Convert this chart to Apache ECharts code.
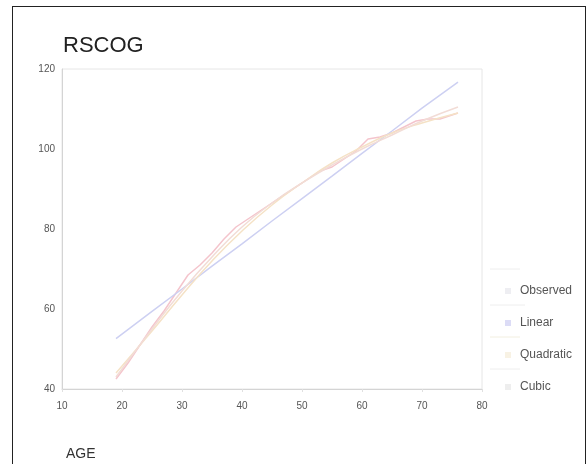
<!DOCTYPE html>
<html>
<head>
<meta charset="utf-8">
<script src="https://cdn.jsdelivr.net/npm/echarts@6/dist/echarts.min.js"></script>
<style>
  html, body { margin: 0; padding: 0; background: #fff; }
  #frame { position: absolute; left: 12px; top: 6px; width: 574px; height: 460px; border: 1px solid #222; box-sizing: border-box; }
  #chart { position: absolute; left: 0; top: 0; width: 587px; height: 464px; }
</style>
</head>
<body>
<div id="frame"></div>
<div id="chart"></div>
<script>
// 数据
const xTicks = [10, 20, 30, 40, 50, 60, 70, 80];
const yTicks = [40, 60, 80, 100, 120];

const observedAge = [19, 21, 23, 25, 27, 29, 31, 33, 35, 37, 39, 41, 43, 45, 47, 49, 51, 53, 55, 57, 59, 61, 63, 65, 67, 69, 71, 73, 75, 76];
const observedVal = [42.5, 46.5, 51, 55.5, 59.5, 64, 68.5, 71, 74, 77.5, 80.5, 82.5, 84.5, 86.5, 88.5, 90.5, 92.5, 94.5, 95.5, 97.5, 99.5, 102.5, 103, 104, 105.5, 107, 107.5, 107.5, 108.5, 109];

const fitAge = [19, 25, 30, 35, 40, 45, 50, 55, 60, 65, 70, 76];
const linearVal = [52.6, 59.4, 65.0, 70.7, 76.3, 82.0, 87.6, 93.2, 98.9, 104.5, 110.2, 116.7];
const quadraticVal = [44, 54.5, 63.5, 72, 79.5, 86, 91.5, 96.5, 100.5, 104, 106.5, 109];
const cubicVal = [43, 55, 64.5, 73, 80.5, 86.5, 91.5, 96, 100, 103.5, 107, 110.5];

const zip = (xs, ys) => xs.map((x, i) => [x, ys[i]]);

const myChart = echarts.init(document.getElementById('chart'));
const fontFamily = 'Liberation Sans, Arial, sans-serif';
const labelFont = { color: '#555', fontSize: 10, fontFamily: fontFamily };

myChart.setOption({
  animation: false,
  title: [
    { text: 'RSCOG', left: 58, top: 30, textStyle: { color: '#222', fontSize: 22, fontWeight: 'normal', fontFamily: fontFamily } },
    { text: 'AGE', left: 61, top: 442, textStyle: { color: '#333', fontSize: 14, fontWeight: 'normal', fontFamily: fontFamily } }
  ],
  grid: {
    left: 62,
    right: 105,
    top: 69,
    bottom: 75,
    show: true,
    borderColor: '#e6e6e6',
    borderWidth: 1
  },
  xAxis: {
    type: 'value',
    min: 10,
    max: 80,
    interval: 10,
    splitLine: { show: false },
    axisLine: { lineStyle: { color: '#d4d4d4' } },
    axisTick: { show: true, length: 3, lineStyle: { color: '#e0e0e0' } },
    axisLabel: Object.assign({ margin: 12, showMinLabel: true, showMaxLabel: true }, labelFont)
  },
  yAxis: {
    type: 'value',
    min: 40,
    max: 120,
    interval: 20,
    splitLine: { show: false },
    axisLine: { show: true, lineStyle: { color: '#d4d4d4' } },
    axisTick: { show: false },
    axisLabel: Object.assign({ margin: 7 }, labelFont)
  },
  legend: {
    orient: 'vertical',
    left: 500,
    top: 280,
    itemGap: 20,
    itemWidth: 6,
    itemHeight: 6,
    icon: 'rect',
    textStyle: { color: '#555', fontSize: 12, fontFamily: fontFamily, padding: [0, 0, 0, 4] },
    data: ['Observed', 'Linear', 'Quadratic', 'Cubic']
  },
  graphic: [
    { type: 'line', shape: { x1: 490, y1: 269, x2: 520, y2: 269 }, style: { stroke: '#eeeeee', lineWidth: 1 } },
    { type: 'line', shape: { x1: 490, y1: 305, x2: 525, y2: 305 }, style: { stroke: '#eeeeee', lineWidth: 1 } },
    { type: 'line', shape: { x1: 490, y1: 337, x2: 520, y2: 337 }, style: { stroke: '#f2efe0', lineWidth: 1 } },
    { type: 'line', shape: { x1: 490, y1: 369, x2: 520, y2: 369 }, style: { stroke: '#eeeeee', lineWidth: 1 } }
  ],
  series: [
    {
      name: 'Observed',
      type: 'line',
      symbol: 'none',
      itemStyle: { color: '#eeeef2' },
      lineStyle: { color: '#f4c4cc', width: 1.5 },
      data: zip(observedAge, observedVal)
    },
    {
      name: 'Linear',
      type: 'line',
      symbol: 'none',
      itemStyle: { color: '#dcdcf6' },
      lineStyle: { color: '#cdd0f2', width: 1.5 },
      data: zip(fitAge, linearVal)
    },
    {
      name: 'Quadratic',
      type: 'line',
      symbol: 'none',
      smooth: true,
      itemStyle: { color: '#f8f2e4' },
      lineStyle: { color: '#f5e2c6', width: 1.5 },
      data: zip(fitAge, quadraticVal)
    },
    {
      name: 'Cubic',
      type: 'line',
      symbol: 'none',
      smooth: true,
      itemStyle: { color: '#eeeeee' },
      lineStyle: { color: '#f2dcd6', width: 1.5 },
      data: zip(fitAge, cubicVal)
    }
  ]
});
</script>
</body>
</html>
